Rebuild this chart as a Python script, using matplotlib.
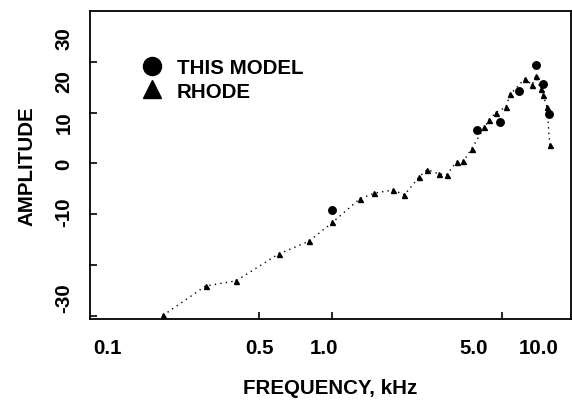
import matplotlib
matplotlib.use("Agg")
import matplotlib.pyplot as plt
from matplotlib.ticker import FixedLocator, FixedFormatter, NullFormatter
from matplotlib.lines import Line2D

plt.rcParams['font.family'] = ['Liberation Sans', 'DejaVu Sans']
plt.rcParams['font.weight'] = 'bold'
plt.rcParams['axes.labelweight'] = 'bold'

# Rhode's measurements (kHz, amplitude)
rhode_freq = [0.20, 0.30, 0.40, 0.60, 0.80, 1.00, 1.30, 1.49, 1.78, 1.98,
              2.28, 2.46, 2.76, 2.96, 3.25, 3.46, 3.75, 4.23, 4.43, 4.71,
              5.19, 5.40, 6.20, 6.67, 6.89, 7.22, 7.38, 7.67, 7.87]
rhode_amp = [-29.9, -24.1, -23.1, -17.8, -15.3, -11.6, -6.9, -5.85, -5.2, -6.2,
             -2.6, -1.2, -2.1, -2.2, 0.3, 0.4, 2.9, 7.1, 8.6, 10.0,
             11.1, 13.6, 16.6, 15.5, 17.2, 14.6, 13.5, 11.1, 3.7]

# Model output
model_freq = [1.00, 3.96, 4.91, 5.89, 6.89, 7.36, 7.85]
model_amp = [-9.2, 6.6, 8.2, 14.2, 19.3, 15.7, 9.7]

# Axis annotation
x_tick_marks = [0.5, 1.0, 5.0]
x_label_pos = [0.118, 0.498, 0.923, 3.82, 7.07]
x_label_text = ['0.1', '0.5', '1.0', '5.0', '10.0']
y_tick_marks = [-30, -20, -10, 0, 10, 20]
y_label_pos = [24.7, 16.3, 8.2, 0.1, -9.3, -26.3]
y_label_text = ['30', '20', '10', '0', '-10', '-30']

fig = plt.figure(figsize=(5.72, 4.02), dpi=100)
ax = fig.add_axes([90 / 572, 1 - 320 / 402, 481 / 572, 308 / 402])

ax.plot(rhode_freq, rhode_amp, color='black', linestyle=(0, (1, 3)),
        linewidth=1.0, marker='^', markersize=3.6, markerfacecolor='black',
        markeredgecolor='black')
ax.plot(model_freq, model_amp, linestyle='none', marker='o', markersize=5.4,
        color='black')

ax.set_xscale('log')
ax.set_xlim(0.1, 9.63)
ax.set_ylim(-30.6, 30)

ax.xaxis.set_major_locator(FixedLocator(x_tick_marks))
ax.xaxis.set_major_formatter(NullFormatter())
ax.xaxis.set_minor_locator(FixedLocator(x_label_pos))
ax.xaxis.set_minor_formatter(FixedFormatter(x_label_text))
ax.yaxis.set_major_locator(FixedLocator(y_tick_marks))
ax.yaxis.set_major_formatter(NullFormatter())
ax.yaxis.set_minor_locator(FixedLocator(y_label_pos))
ax.yaxis.set_minor_formatter(FixedFormatter(y_label_text))

ax.tick_params(which='major', direction='in', length=5, width=1.2)
ax.tick_params(which='minor', length=0, labelsize=14.8)
ax.tick_params(axis='x', which='minor', pad=14)
ax.tick_params(axis='y', which='minor', pad=12, labelrotation=90)
for lbl in ax.get_yticklabels(minor=True):
    lbl.set_va('center')

for s in ax.spines.values():
    s.set_linewidth(1.3)

ax.set_xlabel('FREQUENCY, kHz', fontsize=14.8, fontweight='bold', labelpad=15)
ax.set_ylabel('AMPLITUDE', fontsize=14.8, fontweight='bold', labelpad=13)

handles = [Line2D([], [], linestyle='none', marker='o', markersize=13,
                  color='black'),
           Line2D([], [], linestyle='none', marker='^', markersize=13,
                  color='black')]
ax.legend(handles, ['THIS MODEL', 'RHODE'], loc='upper left',
          bbox_to_anchor=(0.1076, 0.847), frameon=False, fontsize=14.8,
          handlelength=1.0, handletextpad=0.72, borderpad=0,
          borderaxespad=0, labelspacing=0.22)

fig.savefig('out.png', dpi=100)
